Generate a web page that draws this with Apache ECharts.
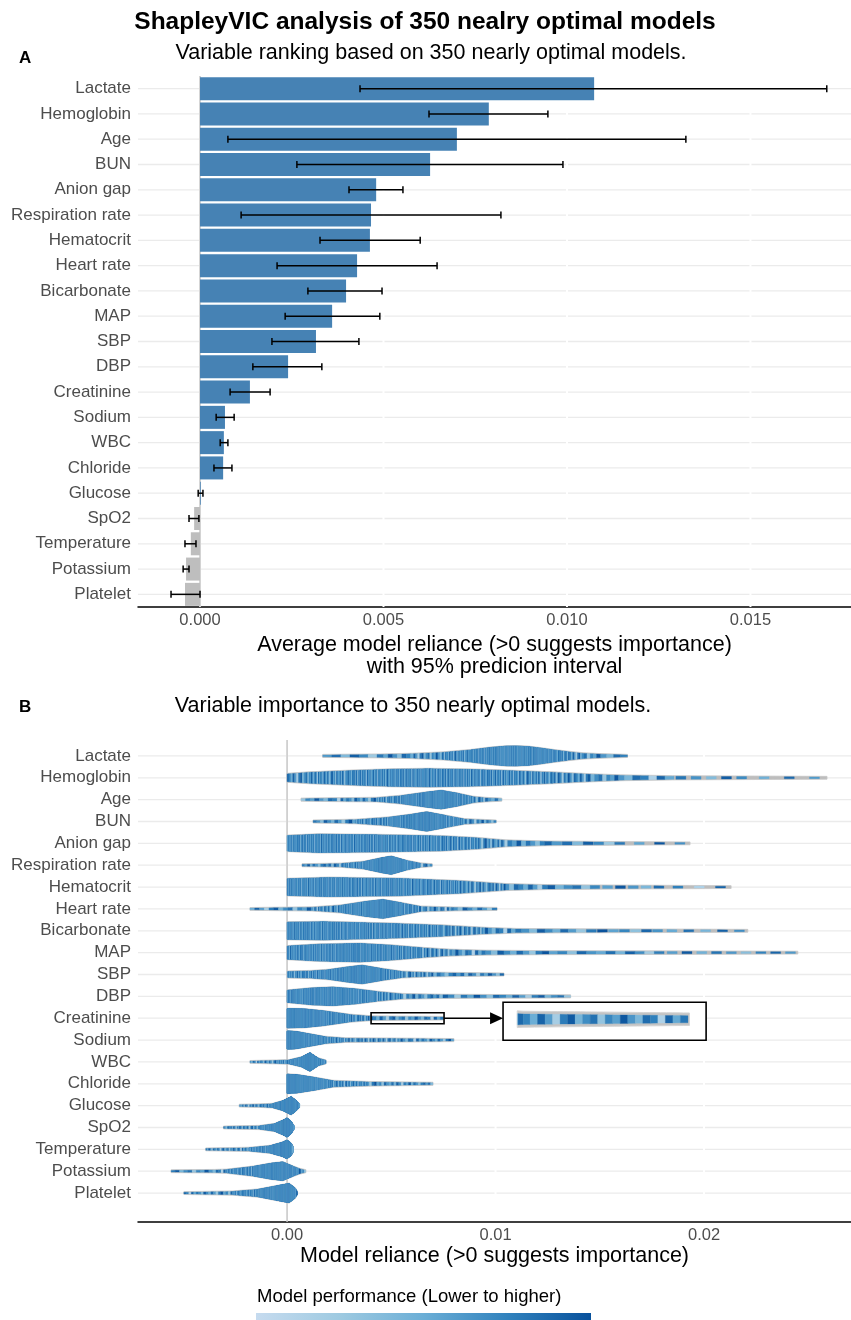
<!DOCTYPE html>
<html>
<head>
<meta charset="utf-8">
<script src="https://cdn.jsdelivr.net/npm/echarts@6/dist/echarts.min.js"></script>
<style>
  html, body { margin: 0; padding: 0; background: #fff; }
  #chart { width: 851px; height: 1320px; }
</style>
</head>
<body>
<div id="chart"></div>
<script>
// ---- data ----
var variables = ['Lactate', 'Hemoglobin', 'Age', 'BUN', 'Anion gap', 'Respiration rate', 'Hematocrit',
  'Heart rate', 'Bicarbonate', 'MAP', 'SBP', 'DBP', 'Creatinine', 'Sodium', 'WBC', 'Chloride',
  'Glucose', 'SpO2', 'Temperature', 'Potassium', 'Platelet'];

// panel A: average model reliance and 95% prediction interval
var meanReliance = [0.01074, 0.00787, 0.0070, 0.00627, 0.0048, 0.00466, 0.00463, 0.00428, 0.00398, 0.0036,
  0.00316, 0.0024, 0.00136, 0.00068, 0.00065, 0.00063, 0.00002, -0.00016, -0.00025, -0.00038, -0.00041];
var intervalLow = [0.00436, 0.00624, 0.00076, 0.00264, 0.00406, 0.00112, 0.00327, 0.0021, 0.00294, 0.00232,
  0.00196, 0.00144, 0.00082, 0.00044, 0.00055, 0.00038, -0.00005, -0.0003, -0.00041, -0.00046, -0.00079];
var intervalHigh = [0.01708, 0.00948, 0.01324, 0.00989, 0.00553, 0.0082, 0.006, 0.00646, 0.00496, 0.0049,
  0.00433, 0.00332, 0.00191, 0.00093, 0.00076, 0.00087, 0.00008, -0.00003, -0.00011, -0.0003, 0.0];

var ticksA = [0, 0.005, 0.010, 0.015];
var ticksB = [0, 0.01, 0.02];

// panel B: violin outlines, [model reliance, relative density]
var violinProfiles = [
  [[0.00171, 0.08], [0.0045, 0.12], [0.006, 0.18], [0.0075, 0.3], [0.0088, 0.5], [0.0097, 0.7], [0.0105, 0.82], [0.011, 0.83], [0.0116, 0.78], [0.0122, 0.65], [0.0128, 0.5], [0.0135, 0.35], [0.0142, 0.22], [0.015, 0.15], [0.01633, 0.08]],
  [[0.0, 0.33], [0.001, 0.45], [0.003, 0.6], [0.005, 0.72], [0.0068, 0.76], [0.009, 0.7], [0.011, 0.58], [0.0128, 0.45], [0.0145, 0.3], [0.016, 0.2], [0.0185, 0.13], [0.022, 0.1], [0.0259, 0.07]],
  [[0.00067, 0.08], [0.0025, 0.12], [0.0043, 0.15], [0.0055, 0.33], [0.0066, 0.6], [0.0074, 0.77], [0.0082, 0.52], [0.0089, 0.25], [0.0095, 0.15], [0.0103, 0.08]],
  [[0.00125, 0.08], [0.0033, 0.15], [0.0049, 0.35], [0.006, 0.6], [0.0067, 0.8], [0.0076, 0.5], [0.0085, 0.2], [0.01003, 0.08]],
  [[0.0, 0.65], [0.0015, 0.77], [0.0043, 0.72], [0.0074, 0.62], [0.0092, 0.45], [0.0105, 0.25], [0.0125, 0.15], [0.016, 0.1], [0.01933, 0.07]],
  [[0.00072, 0.08], [0.0026, 0.13], [0.0037, 0.3], [0.0045, 0.6], [0.005, 0.75], [0.0057, 0.4], [0.0064, 0.15], [0.00696, 0.08]],
  [[0.0, 0.7], [0.002, 0.8], [0.0055, 0.72], [0.0085, 0.5], [0.0105, 0.25], [0.0125, 0.16], [0.0147, 0.13], [0.018, 0.1], [0.0213, 0.07]],
  [[-0.00178, 0.07], [0.0012, 0.13], [0.0026, 0.3], [0.0037, 0.6], [0.0046, 0.78], [0.0055, 0.5], [0.0064, 0.2], [0.008, 0.12], [0.01007, 0.08]],
  [[0.0, 0.72], [0.0018, 0.76], [0.0053, 0.6], [0.0075, 0.45], [0.0095, 0.25], [0.011, 0.15], [0.014, 0.12], [0.018, 0.1], [0.0221, 0.07]],
  [[0.0, 0.55], [0.0015, 0.7], [0.0035, 0.77], [0.005, 0.62], [0.0065, 0.4], [0.0078, 0.25], [0.0095, 0.16], [0.0126, 0.12], [0.018, 0.1], [0.0245, 0.07]],
  [[0.0, 0.25], [0.0012, 0.3], [0.002, 0.4], [0.0028, 0.6], [0.0036, 0.77], [0.0045, 0.5], [0.0055, 0.25], [0.007, 0.15], [0.0104, 0.08]],
  [[0.0, 0.5], [0.0012, 0.7], [0.0022, 0.77], [0.0033, 0.62], [0.0043, 0.4], [0.0055, 0.2], [0.0075, 0.13], [0.0136, 0.08]],
  [[0.0, 0.8], [0.0008, 0.78], [0.0018, 0.6], [0.003, 0.3], [0.0041, 0.15], [0.0075, 0.1]],
  [[0.0, 0.75], [0.0004, 0.72], [0.0008, 0.6], [0.0018, 0.28], [0.0028, 0.15], [0.0055, 0.12], [0.008, 0.08]],
  [[-0.00178, 0.07], [-0.0005, 0.12], [0.0001, 0.15], [0.0007, 0.4], [0.0011, 0.77], [0.0015, 0.3], [0.00187, 0.12]],
  [[0.0, 0.8], [0.0005, 0.75], [0.0014, 0.5], [0.0022, 0.25], [0.0039, 0.15], [0.007, 0.08]],
  [[-0.00229, 0.07], [-0.0013, 0.1], [-0.0007, 0.15], [-0.0002, 0.4], [0.0002, 0.75], [0.00045, 0.4], [0.0006, 0.12]],
  [[-0.00305, 0.07], [-0.0013, 0.13], [-0.0006, 0.3], [-0.0002, 0.6], [0.0, 0.8], [0.0002, 0.5], [0.00035, 0.1]],
  [[-0.0039, 0.07], [-0.0018, 0.13], [-0.0008, 0.3], [-0.0002, 0.6], [0.0, 0.78], [0.0002, 0.5], [0.0003, 0.2]],
  [[-0.00556, 0.07], [-0.0035, 0.1], [-0.0029, 0.13], [-0.0016, 0.4], [-0.0008, 0.65], [-0.0002, 0.77], [0.0003, 0.4], [0.0006, 0.2], [0.0009, 0.08]],
  [[-0.00495, 0.07], [-0.0026, 0.13], [-0.0014, 0.3], [-0.0005, 0.6], [0.0001, 0.8], [0.0004, 0.4], [0.0005, 0.1]]
];

// model performance levels (0 = lower, 1 = higher) used for the stripes
var perfPattern = [0.62, 0.85, 0.40, 0.93, 0.71, 0.25, 0.80, 0.55, 0.98, 0.67, 0.35, 0.88, 0.74, 0.50, 0.91, 0.60,
  0.20, 0.78, 0.95, 0.45, 0.69, 0.83, 0.30, 0.72, 0.58, 0.97, 0.64, 0.42, 0.86, 0.76, 0.15, 0.90,
  0.53, 0.81, 0.66, 0.38, 0.94, 0.70, 0.48, 0.87, 0.61, 0.28, 0.79, 0.99, 0.56, 0.73, 0.33, 0.89,
  0.65, 0.52, 0.84, 0.44, 0.92, 0.68, 0.22, 0.77, 0.59, 0.96, 0.47, 0.82, 0.63, 0.36, 0.75, 0.90];
var modelCount = 350;

// ---- drawing ----
var FONT = '"Liberation Sans", Arial, sans-serif';
var colourStops = [[0, [198, 219, 239]], [0.25, [158, 202, 225]], [0.5, [107, 174, 214]], [0.75, [49, 130, 189]], [1, [8, 81, 156]]];

function perfColour(t) {
  for (var j = 1; j < colourStops.length; j++) {
    if (t <= colourStops[j][0]) {
      var a = colourStops[j - 1], b = colourStops[j];
      var f = (t - a[0]) / (b[0] - a[0]);
      return 'rgb(' + [0, 1, 2].map(function (k) { return Math.round(a[1][k] + f * (b[1][k] - a[1][k])); }).join(',') + ')';
    }
  }
  return 'rgb(8,81,156)';
}

function interpW(pts, x) {
  if (x <= pts[0][0]) return pts[0][1];
  for (var j = 1; j < pts.length; j++) {
    if (x <= pts[j][0]) {
      var f = (x - pts[j - 1][0]) / ((pts[j][0] - pts[j - 1][0]) || 1);
      return pts[j - 1][1] + f * (pts[j][1] - pts[j - 1][1]);
    }
  }
  return pts[pts.length - 1][1];
}

// place the models at equal quantiles along the violin (weighted toward the wide part)
function modelPositions(pts) {
  var w = pts.map(function (p) { return Math.pow(p[1], 1.7); });
  var cum = [0];
  for (var j = 1; j < pts.length; j++) {
    cum.push(cum[j - 1] + (pts[j][0] - pts[j - 1][0]) * (w[j] + w[j - 1]) / 2);
  }
  var total = cum[cum.length - 1];
  var xs = [];
  var s = 1;
  for (var m = 0; m < modelCount; m++) {
    var target = (m + 0.5) / modelCount * total;
    while (s < pts.length - 1 && cum[s] < target) s++;
    var seg = cum[s] - cum[s - 1];
    var f = seg > 0 ? (target - cum[s - 1]) / seg : 0;
    xs.push(pts[s - 1][0] + f * (pts[s][0] - pts[s - 1][0]));
  }
  return xs;
}

function stripeList(pts, xs, row) {
  var out = [];
  var n = xs.length, maxHalf = 5, minHalf = 0.8;
  for (var m = 0; m < n; m++) {
    var left = m === 0 ? pts[0][0] : (xs[m - 1] + xs[m]) / 2;
    var right = m === n - 1 ? pts[pts.length - 1][0] : (xs[m] + xs[m + 1]) / 2;
    left = Math.max(Math.min(left, xs[m] - minHalf), xs[m] - maxHalf, pts[0][0]);
    right = Math.min(Math.max(right, xs[m] + minHalf), xs[m] + maxHalf, pts[pts.length - 1][0]);
    out.push({ x0: left, x1: right, level: perfPattern[(m + row * 11) % perfPattern.length] });
  }
  return out;
}

function stripeShape(st, pts, yc, tx, ty) {
  var h0 = interpW(pts, st.x0), h1 = interpW(pts, st.x1);
  var c = perfColour(st.level);
  return {
    type: 'polygon',
    shape: { points: [[tx(st.x0), ty(yc - h0)], [tx(st.x1), ty(yc - h1)], [tx(st.x1), ty(yc + h1)], [tx(st.x0), ty(yc + h0)]] },
    style: { fill: c, stroke: c, lineWidth: 0.3 }
  };
}

function renderViolin(params, api) {
  var i = params.dataIndex;
  var prof = violinProfiles[i];
  var yc = api.coord([0, i])[1];
  var band = api.size([0, 1])[1];
  var k = band * 0.54;
  var pts = prof.map(function (p) { return [api.coord([p[0], i])[0], p[1] * k]; });
  var rim = 0.6;
  var children = [];
  var id = function (v) { return v; };

  var outline = pts.map(function (p) { return [p[0], yc - p[1] - rim]; });
  for (var j = pts.length - 1; j >= 0; j--) outline.push([pts[j][0], yc + pts[j][1] + rim]);
  children.push({ type: 'polygon', shape: { points: outline }, style: { fill: '#bdbdbd', stroke: '#c8c8c8', lineWidth: 0.8 } });

  var xs = modelPositions(pts);
  var stripes = stripeList(pts, xs, i);
  stripes.forEach(function (st) { children.push(stripeShape(st, pts, yc, id, id)); });

  if (variables[i] === 'Creatinine') {
    var wx0 = api.coord([0.00403, i])[0], wx1 = api.coord([0.00753, i])[0];
    var bx0 = api.coord([0.01036, i])[0], bx1 = api.coord([0.0201, i])[0];
    var ix0 = api.coord([0.01104, i])[0], ix1 = api.coord([0.0193, i])[0];
    var mag = 3.0, iyc = yc + 1;
    var tx = function (x) { return ix0 + (x - wx0) * (ix1 - ix0) / (wx1 - wx0); };
    var ty = function (y) { return iyc + (y - yc) * mag; };
    children.push({ type: 'rect', shape: { x: wx0, y: yc - 5.5, width: wx1 - wx0, height: 11 }, style: { fill: 'none', stroke: '#000', lineWidth: 1.6 } });
    children.push({ type: 'line', shape: { x1: wx1, y1: yc, x2: bx0 - 12, y2: yc }, style: { stroke: '#000', lineWidth: 1.6 } });
    children.push({ type: 'polygon', shape: { points: [[bx0 - 13, yc - 6], [bx0, yc], [bx0 - 13, yc + 6]] }, style: { fill: '#000' } });
    children.push({ type: 'rect', shape: { x: bx0, y: yc - 16, width: bx1 - bx0, height: 38 }, style: { fill: '#fff', stroke: '#000', lineWidth: 1.6 } });
    var top = [], bot = [];
    for (var q = 0; q <= 30; q++) {
      var x = wx0 + (wx1 - wx0) * q / 30;
      var h = interpW(pts, x) + rim * 1.5;
      top.push([tx(x), ty(yc - h)]);
      bot.unshift([tx(x), ty(yc + h)]);
    }
    children.push({ type: 'polygon', shape: { points: top.concat(bot) }, style: { fill: '#c4c4c4', stroke: '#d4d4d4', lineWidth: 1 } });
    stripes.forEach(function (st) {
      if (st.x1 <= wx0 || st.x0 >= wx1) return;
      var cl = { x0: Math.max(st.x0, wx0), x1: Math.min(st.x1, wx1), level: st.level };
      children.push(stripeShape(cl, pts, yc, tx, ty));
    });
  }
  return { type: 'group', children: children };
}

function makeGridRenderer(ticks, topExt, bottomExt) {
  return function (params, api) {
    var cs = params.coordSys;
    var children = [];
    variables.forEach(function (v, i) {
      var y = api.coord([0, i])[1];
      children.push({ type: 'line', shape: { x1: cs.x, y1: y, x2: cs.x + cs.width, y2: y }, style: { stroke: '#ebebeb', lineWidth: 1.3 } });
    });
    ticks.forEach(function (t) {
      var x = api.coord([t, 0])[0];
      children.push({ type: 'line', shape: { x1: x, y1: cs.y, x2: x, y2: cs.y + cs.height }, style: { stroke: '#fff', lineWidth: 2 } });
    });
    var x0 = api.coord([0, 0])[0];
    children.push({ type: 'line', shape: { x1: x0, y1: cs.y - topExt, x2: x0, y2: cs.y + cs.height + bottomExt }, style: { stroke: '#c6c6c6', lineWidth: 1.5 } });
    return { type: 'group', children: children };
  };
}

function renderErrorBar(params, api) {
  var lo = api.coord([api.value(0), api.value(1)]);
  var hi = api.coord([api.value(2), api.value(1)]);
  var c = 3.5;
  var st = { stroke: '#000', lineWidth: 1.5 };
  return {
    type: 'group', children: [
      { type: 'line', shape: { x1: lo[0], y1: lo[1], x2: hi[0], y2: hi[1] }, style: st },
      { type: 'line', shape: { x1: lo[0], y1: lo[1] - c, x2: lo[0], y2: lo[1] + c }, style: st },
      { type: 'line', shape: { x1: hi[0], y1: hi[1] - c, x2: hi[0], y2: hi[1] + c }, style: st }
    ]
  };
}

var catLabel = { color: '#4d4d4d', fontSize: 17, fontFamily: FONT, interval: 0 };
var tickLabel = { color: '#4d4d4d', fontSize: 16.5, fontFamily: FONT };

function textEl(text, x, y, size, weight, align) {
  return {
    type: 'text', x: x, y: y, silent: true,
    style: { text: text, font: (weight || 'normal') + ' ' + size + 'px ' + FONT, fill: '#000',
      textAlign: align || 'center', textVerticalAlign: 'middle', align: align || 'center', verticalAlign: 'middle' }
  };
}

var chart = echarts.init(document.getElementById('chart'));
chart.setOption({
  animation: false,
  backgroundColor: '#fff',
  textStyle: { fontFamily: FONT },
  grid: [
    { left: 138, right: 0, top: 76, height: 531 },
    { left: 138, right: 0, top: 745, height: 459 }
  ],
  xAxis: [
    {
      gridIndex: 0, type: 'value', min: -0.00169, max: 0.01774,
      axisLine: { show: true, onZero: false, lineStyle: { color: '#000', width: 1.5 } },
      axisTick: { show: false }, splitLine: { show: false },
      axisLabel: Object.assign({ customValues: ticksA, margin: 5, formatter: function (v) { return v.toFixed(3); } }, tickLabel),
      name: 'Average model reliance (>0 suggests importance)\nwith 95% predicion interval',
      nameLocation: 'middle', nameGap: 27,
      nameTextStyle: { fontSize: 21.5, color: '#000', lineHeight: 22, fontFamily: FONT }
    },
    {
      gridIndex: 1, type: 'value', min: -0.00715, max: 0.02705, offset: 18,
      axisLine: { show: true, onZero: false, lineStyle: { color: '#000', width: 1.5 } },
      axisTick: { show: false }, splitLine: { show: false },
      axisLabel: Object.assign({ customValues: ticksB, margin: 5, formatter: function (v) { return v.toFixed(2); } }, tickLabel),
      name: 'Model reliance (>0 suggests importance)',
      nameLocation: 'middle', nameGap: 23,
      nameTextStyle: { fontSize: 21.5, color: '#000', fontFamily: FONT }
    }
  ],
  yAxis: [
    {
      gridIndex: 0, type: 'category', data: variables, inverse: true,
      axisLine: { show: false }, axisTick: { show: false }, splitLine: { show: false },
      axisLabel: Object.assign({ margin: 7 }, catLabel)
    },
    {
      gridIndex: 1, type: 'category', data: variables, inverse: true,
      axisLine: { show: false }, axisTick: { show: false }, splitLine: { show: false },
      axisLabel: Object.assign({ margin: 7 }, catLabel)
    }
  ],
  graphic: [
    textEl('ShapleyVIC analysis of 350 nealry optimal models', 425, 22, 24.5, 'bold'),
    textEl('A', 19, 58, 17, 'bold', 'left'),
    textEl('Variable ranking based on 350 nearly optimal models.', 431, 53, 21.5),
    textEl('B', 19, 707, 17, 'bold', 'left'),
    textEl('Variable importance to 350 nearly optimal models.', 413, 706, 21.5),
    textEl('Model performance (Lower to higher)', 257, 1297, 18.5, 'normal', 'left'),
    {
      type: 'rect', shape: { x: 256, y: 1313, width: 335, height: 12 }, silent: true,
      style: {
        fill: new echarts.graphic.LinearGradient(0, 0, 1, 0, colourStops.map(function (s) {
          return { offset: s[0], color: 'rgb(' + s[1].join(',') + ')' };
        }))
      }
    }
  ],
  series: [
    {
      type: 'custom', xAxisIndex: 0, yAxisIndex: 0, z: 1, silent: true,
      renderItem: makeGridRenderer(ticksA, 0, 0), data: [[0, 0]]
    },
    {
      type: 'bar', xAxisIndex: 0, yAxisIndex: 0, z: 2, barCategoryGap: '9%',
      data: meanReliance,
      itemStyle: { color: function (p) { return p.value > 0 ? '#4682b4' : '#bebebe'; } }
    },
    {
      type: 'custom', xAxisIndex: 0, yAxisIndex: 0, z: 3,
      renderItem: renderErrorBar,
      encode: { x: [0, 2], y: 1 },
      data: variables.map(function (v, i) { return [intervalLow[i], i, intervalHigh[i]]; })
    },
    {
      type: 'custom', xAxisIndex: 1, yAxisIndex: 1, z: 1, silent: true,
      renderItem: makeGridRenderer(ticksB, 5, 18), data: [[0, 0]]
    },
    {
      type: 'custom', xAxisIndex: 1, yAxisIndex: 1, z: 2, silent: true,
      renderItem: renderViolin,
      data: variables.map(function (v, i) { return [0, i]; })
    }
  ]
});
</script>
</body>
</html>
